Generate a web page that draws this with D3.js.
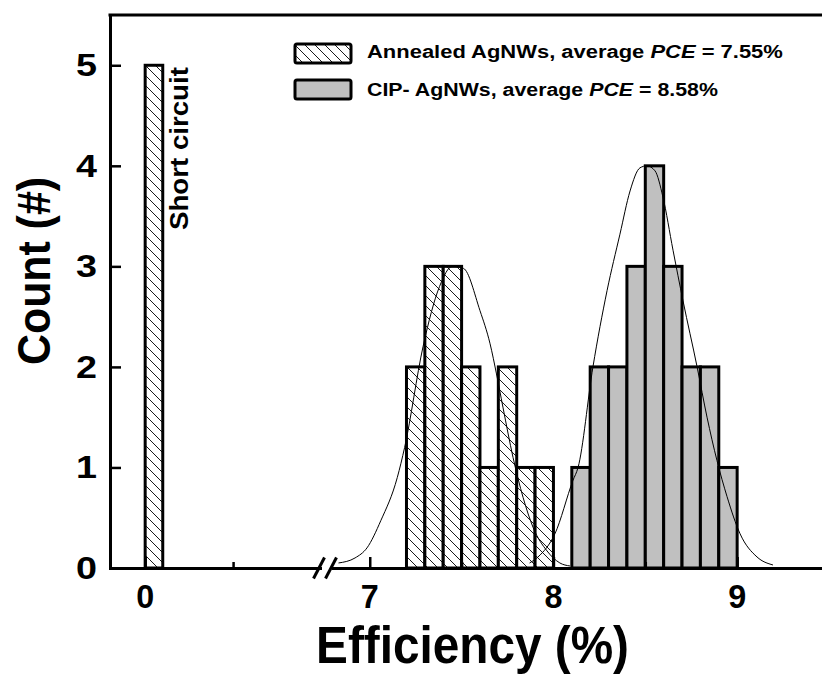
<!DOCTYPE html>
<html>
<head>
<meta charset="utf-8">
<script src="https://cdn.jsdelivr.net/npm/d3@7"></script>
<style>
  body { margin: 0; background: #fff; }
  svg { display: block; font-family: "Liberation Sans", Arial, sans-serif; font-weight: bold; }
</style>
</head>
<body>
<svg id="chart" width="822" height="675"></svg>
<script>
// Histogram bins: left edge of each 0.1-wide bin and its count
const binWidth = 0.1;
const shortStarts = [0];
const shortCounts = [5];
const annealedStarts = [7.2, 7.3, 7.4, 7.5, 7.6, 7.7, 7.8, 7.9];
const annealedCounts = [2, 3, 3, 2, 1, 2, 1, 1];
const cipStarts = [8.1, 8.2, 8.3, 8.4, 8.5, 8.6, 8.7, 8.8, 8.9];
const cipCounts = [1, 2, 2, 3, 4, 3, 2, 2, 1];

// Fitted curves, points
const annealedFitX = [6.83, 6.92, 6.985, 7.06, 7.15, 7.19, 7.29, 7.38, 7.45, 7.51, 7.60, 7.655, 7.69, 7.725, 7.78, 7.835, 7.89, 7.965, 8.035, 8.09];
const annealedFitY = [0.05, 0.1, 0.2, 0.47, 0.9, 1.2, 2.2, 2.8, 3.0, 2.98, 2.56, 2.23, 1.93, 1.6, 1.1, 0.7, 0.4, 0.17, 0.05, 0.02];
const cipFitX = [7.87, 7.916, 8.008, 8.106, 8.134, 8.215, 8.292, 8.362, 8.417, 8.471, 8.509, 8.553, 8.596, 8.651, 8.705, 8.782, 8.836, 8.89, 8.945, 9.016, 9.108, 9.195];
const cipFitY = [0.05, 0.11, 0.34, 0.87, 1.0, 2.0, 2.76, 3.32, 3.75, 3.98, 4.0, 3.95, 3.69, 3.16, 2.66, 2.0, 1.5, 1.07, 0.71, 0.34, 0.11, 0.03];

// Axis ticks (broken x axis)
const xTicksLeft = [0];
const xMinorLeft = [0.5];
const xTicksRight = [7, 8, 9];
const xMinorRight = [7.5, 8.5];
const yTicks = [0, 1, 2, 3, 4, 5];

const legendLabels = [
    ["Annealed AgNWs, average ", "PCE", " = 7.55%"],
    ["CIP- AgNWs, average ", "PCE", " = 8.58%"]
];

const svg = d3.select("#chart");

// two x segments on either side of the break
const xLeft = d3.scaleLinear().domain([-0.2, 1.0]).range([110, 321]);
const xRight = d3.scaleLinear().domain([6.8, 9.5]).range([333, 829]);
const x = v => v <= 1.0 ? xLeft(v) : xRight(v);
const y = d3.scaleLinear().domain([0, 5.5]).range([568, 15]);

// hatch pattern
const defs = svg.append("defs");
const pat = defs.append("pattern")
    .attr("id", "hatch")
    .attr("patternUnits", "userSpaceOnUse")
    .attr("width", 10)
    .attr("height", 10);
pat.append("rect").attr("width", 10).attr("height", 10).attr("fill", "#fff");
pat.append("path")
    .attr("d", "M0,0L10,10M-5,5L5,15M5,-5L15,5")
    .attr("stroke", "#000")
    .attr("stroke-width", 0.9);

// stretch/squeeze a text element to a measured width
function fitText(t, px, py, width, rot) {
    t.attr("x", 0).attr("y", 0);
    const len = t.node().getComputedTextLength();
    const k = width / len;
    t.attr("transform", `translate(${px},${py})` + (rot ? ` rotate(${rot})` : "") + ` scale(${k},1)`);
}

function drawBars(starts, counts, fill) {
    svg.append("g").selectAll("rect")
        .data(starts.map((s, i) => ({ s, c: counts[i] })))
        .enter()
        .append("rect")
        .attr("x", d => x(d.s))
        .attr("y", d => y(d.c))
        .attr("width", d => x(d.s + binWidth) - x(d.s))
        .attr("height", d => y(0) - y(d.c))
        .attr("fill", fill)
        .attr("stroke", "#000")
        .attr("stroke-width", 3);
}

drawBars(shortStarts, shortCounts, "url(#hatch)");
drawBars(annealedStarts, annealedCounts, "url(#hatch)");
drawBars(cipStarts, cipCounts, "#c0c0c0");

// fit curves
const line = d3.line()
    .x(d => x(d[0]))
    .y(d => y(d[1]))
    .curve(d3.curveMonotoneX);

[[annealedFitX, annealedFitY], [cipFitX, cipFitY]].forEach(([xs, ys]) => {
    svg.append("path")
        .datum(xs.map((v, i) => [v, ys[i]]))
        .attr("fill", "none")
        .attr("stroke", "#000")
        .attr("stroke-width", 1)
        .attr("d", line);
});

// axes
function styleAxis(g) {
    g.select(".domain").attr("stroke-width", 3).attr("stroke-linecap", "square");
    g.selectAll(".tick line").attr("stroke-width", 2.5);
    g.selectAll("text").remove();
}

function xSegment(scale, major, minor) {
    svg.append("g")
        .attr("transform", `translate(0,${y(0)})`)
        .call(d3.axisBottom(scale).tickValues(minor).tickSizeInner(-6).tickSizeOuter(0).tickFormat(""))
        .call(styleAxis);
    svg.append("g")
        .attr("transform", `translate(0,${y(0)})`)
        .call(d3.axisBottom(scale).tickValues(major).tickSizeInner(-11).tickSizeOuter(0))
        .call(styleAxis);
    major.forEach(v => {
        const t = svg.append("text")
            .attr("text-anchor", "middle")
            .attr("font-size", 34)
            .text(v);
        fitText(t, scale(v), 608, 18);
    });
}

xSegment(xLeft, xTicksLeft, xMinorLeft);
xSegment(xRight, xTicksRight, xMinorRight);

// break marks
const y0 = y(0);
svg.append("rect")
    .attr("x", xLeft(1.0) + 1).attr("y", y0 - 3)
    .attr("width", xRight(6.8) - xLeft(1.0) - 2).attr("height", 6)
    .attr("fill", "#fff");
[xLeft(1.0) - 2, xRight(6.8) - 2].forEach(cx => {
    svg.append("line")
        .attr("x1", cx - 5.5).attr("y1", y0 + 10.5)
        .attr("x2", cx + 5.5).attr("y2", y0 - 10.5)
        .attr("stroke", "#000")
        .attr("stroke-width", 3);
});

svg.append("g")
    .attr("transform", `translate(${xLeft(-0.2)},0)`)
    .call(d3.axisLeft(y).tickValues(yTicks).tickSizeInner(-11).tickSizeOuter(0))
    .call(styleAxis);

yTicks.forEach(v => {
    const t = svg.append("text")
        .attr("text-anchor", "end")
        .attr("font-size", 31)
        .text(v);
    fitText(t, 97, y(v) + 11, 21);
});

// top frame
svg.append("line")
    .attr("x1", xLeft(-0.2)).attr("y1", y(5.5))
    .attr("x2", xRight(9.5)).attr("y2", y(5.5))
    .attr("stroke", "#000")
    .attr("stroke-width", 3)
    .attr("stroke-linecap", "square");

// axis titles
fitText(svg.append("text").attr("text-anchor", "middle").attr("font-size", 51).text("Efficiency (%)"),
    472.5, 663, 313);
fitText(svg.append("text").attr("text-anchor", "middle").attr("font-size", 46).text("Count (#)"),
    50, 271, 188, -90);

// annotation next to the zero bar
fitText(svg.append("text").attr("text-anchor", "start").attr("font-size", 25).text("Short circuit"),
    188, 230, 163, -90);

// legend
const legendFills = ["url(#hatch)", "#c0c0c0"];
const legendY = [44, 80];
const legendBase = [58.3, 96];
const legendW = [416, 351];
legendLabels.forEach((parts, i) => {
    svg.append("rect")
        .attr("x", 295).attr("y", legendY[i])
        .attr("width", 56).attr("height", 19)
        .attr("rx", 2)
        .attr("fill", legendFills[i])
        .attr("stroke", "#000")
        .attr("stroke-width", 3);
    const t = svg.append("text").attr("font-size", 18.5);
    t.append("tspan").text(parts[0]);
    t.append("tspan").attr("font-style", "italic").text(parts[1]);
    t.append("tspan").text(parts[2]);
    fitText(t, 367, legendBase[i], legendW[i]);
});
</script>
</body>
</html>
